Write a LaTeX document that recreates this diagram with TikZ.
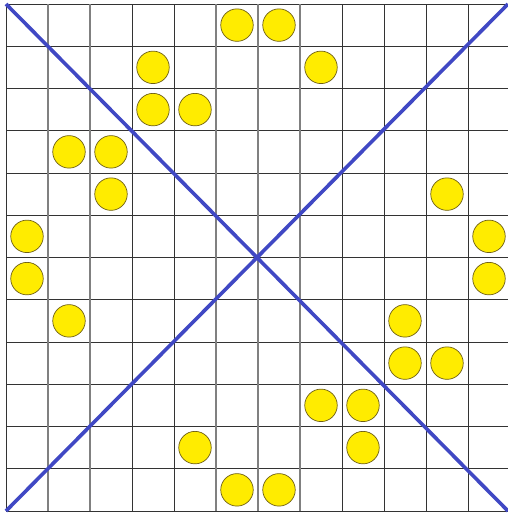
\documentclass[tikz,border=0pt]{standalone}
\begin{document}
\begin{tikzpicture}[x=1pt,y=-1pt,
  gridline/.style={draw=black!80,line width=1pt},
  lightline/.style={draw=black!50,line width=1.1pt},
  diag/.style={draw={rgb,255:red,64;green,72;blue,196},line width=3.6pt},
  dot/.style={circle,draw={rgb,255:red,110;green,95;blue,20},line width=0.7pt,fill={rgb,255:red,255;green,236;blue,0},minimum size=32.5pt,inner sep=0pt}]
\useasboundingbox (0,0) rectangle (508,515);
\fill[white] (0,0) rectangle (508,515);
% horizontal grid lines
\foreach \r in {0,...,12} {
  \draw[gridline] (6,{4+42.25*\r}) -- (510,{4+42.25*\r});
}
% vertical grid lines
\foreach \c in {0,3,4,8,9,10,11,12} {
  \draw[gridline] ({6+42*\c},4) -- ({6+42*\c},511);
}
\foreach \c in {1,2,5,6,7} {
  \draw[lightline] ({6+42*\c},4) -- ({6+42*\c},511);
}
% circles
\foreach \c/\r [count=\i] in {5/0,6/0,3/1,7/1,3/2,4/2,1/3,2/3,2/4,10/4,0/5,11/5,0/6,11/6,1/7,9/7,9/8,10/8,7/9,8/9,4/10,8/10,5/11,6/11} {
  \node[dot] (c\i) at ({6+42*\c+21},{4+42.25*\r+21.1}) {};
}
% diagonals
\coordinate (tl) at (6,4);
\coordinate (br) at (508,511);
\coordinate (bl) at (6,511);
\coordinate (tr) at (508,4);
\draw[diag] (tl) -- (br);
\draw[diag] (bl) -- (tr);
\end{tikzpicture}
\end{document}
